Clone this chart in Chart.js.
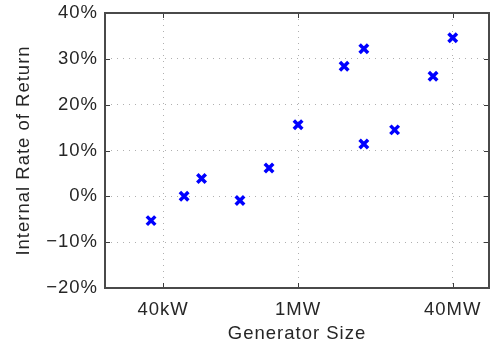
<!DOCTYPE html>
<html>
<head>
<meta charset="utf-8">
<script src="https://cdn.jsdelivr.net/npm/chart.js@4/dist/chart.umd.min.js"></script>
<style>
  html, body { margin: 0; padding: 0; background: #ffffff; overflow: hidden; }
  canvas { display: block; }
</style>
</head>
<body>
<canvas id="c" width="490" height="345" style="width:490px;height:345px"></canvas>
<script>
// Generator size in watts (x) and internal rate of return in percent (y)
const generatorSizes = [30e3, 66e3, 100e3, 250e3, 500e3, 1e6, 3e6, 4.8e6, 4.8e6, 10e6, 25e6, 40e6];
const irrValues      = [-5.3, 0.0, 3.9, -0.9, 6.2, 15.6, 28.4, 32.2, 11.4, 14.5, 26.2, 34.6];

const xTickValues = [40e3, 1e6, 40e6];
const xTickLabels = ['40kW', '1MW', '40MW'];
const yTickValues = [-20, -10, 0, 10, 20, 30, 40];

const points = generatorSizes.map((v, i) => ({ x: v, y: irrValues[i] }));

const textColor = '#262626';
const fontFamily = '"Liberation Sans", Arial, Helvetica, sans-serif';
const fontSize = 18.5;

const spacingPlugin = {
  id: 'spacing',
  beforeInit(chart) { chart.ctx.letterSpacing = '1px'; },
  beforeUpdate(chart) { chart.ctx.letterSpacing = '1px'; },
  beforeDraw(chart) { chart.ctx.letterSpacing = '1px'; }
};

const framePlugin = {
  id: 'frame',
  beforeDatasetsDraw(chart) {
    const { ctx, chartArea: a, scales } = chart;
    ctx.save();
    ctx.strokeStyle = '#3c3c3c';
    ctx.lineWidth = 1;
    const tl = 5;
    xTickValues.forEach(v => {
      const px = Math.round(scales.x.getPixelForValue(v)) + 0.5;
      ctx.beginPath();
      ctx.moveTo(px, a.bottom); ctx.lineTo(px, a.bottom - tl);
      ctx.moveTo(px, a.top); ctx.lineTo(px, a.top + tl);
      ctx.stroke();
    });
    yTickValues.forEach(v => {
      const py = Math.round(scales.y.getPixelForValue(v)) + 0.5;
      ctx.beginPath();
      ctx.moveTo(a.left, py); ctx.lineTo(a.left + tl, py);
      ctx.moveTo(a.right, py); ctx.lineTo(a.right - tl, py);
      ctx.stroke();
    });
    ctx.restore();
  },
  afterDraw(chart) {
    const { ctx, chartArea: a } = chart;
    ctx.save();
    ctx.strokeStyle = '#4a4a4a';
    ctx.lineWidth = 2;
    ctx.strokeRect(a.left, a.top, a.right - a.left, a.bottom - a.top);
    ctx.restore();
  }
};

new Chart(document.getElementById('c'), {
  type: 'scatter',
  data: {
    datasets: [{
      data: points,
      pointStyle: 'crossRot',
      pointRadius: 6,
      pointHoverRadius: 6,
      pointBorderWidth: 3.5,
      pointBorderColor: '#0000ff',
      pointBackgroundColor: '#0000ff'
    }]
  },
  options: {
    responsive: false,
    animation: false,
    events: [],
    layout: { autoPadding: false, padding: { top: 13, right: 1, left: 0, bottom: 0 } },
    plugins: { legend: { display: false }, tooltip: { enabled: false } },
    scales: {
      x: {
        type: 'logarithmic',
        min: 1e4,
        max: 9.5e7,
        afterBuildTicks(scale) { scale.ticks = xTickValues.map(v => ({ value: v })); },
        afterFit(scale) {
          scale.height = 57;
          scale.paddingLeft = 0; scale.paddingRight = 0;
        },
        ticks: {
          autoSkip: false,
          maxRotation: 0,
          padding: 11,
          color: textColor,
          font: { family: fontFamily, size: fontSize },
          callback(value) {
            const i = xTickValues.indexOf(value);
            return i >= 0 ? xTickLabels[i] : '';
          }
        },
        grid: { color: '#b0b0b0', lineWidth: 1, drawTicks: false },
        border: { display: false, dash: [1, 5] },
        title: {
          display: true,
          text: 'Generator Size',
          color: textColor,
          font: { family: fontFamily, size: fontSize },
          padding: { top: 0, bottom: 0 }
        }
      },
      y: {
        min: -20,
        max: 40,
        afterBuildTicks(scale) { scale.ticks = yTickValues.map(v => ({ value: v })); },
        afterFit(scale) {
          scale.width = 105;
          scale.paddingTop = 0; scale.paddingBottom = 0;
        },
        ticks: {
          padding: 7,
          color: textColor,
          font: { family: fontFamily, size: fontSize },
          callback(value) { return (value < 0 ? '\u2212' + Math.abs(value) : value) + '%'; }
        },
        grid: {
          color: (ctx) => (ctx.tick && (ctx.tick.value === 40 || ctx.tick.value === -20)) ? 'rgba(0,0,0,0)' : '#b0b0b0',
          lineWidth: 1,
          drawTicks: false
        },
        border: { display: false, dash: [1, 5] },
        title: {
          display: true,
          text: 'Internal Rate of Return',
          color: textColor,
          font: { family: fontFamily, size: fontSize },
          padding: { top: 13, bottom: 0 }
        }
      }
    }
  },
  plugins: [spacingPlugin, framePlugin]
});
</script>
</body>
</html>
